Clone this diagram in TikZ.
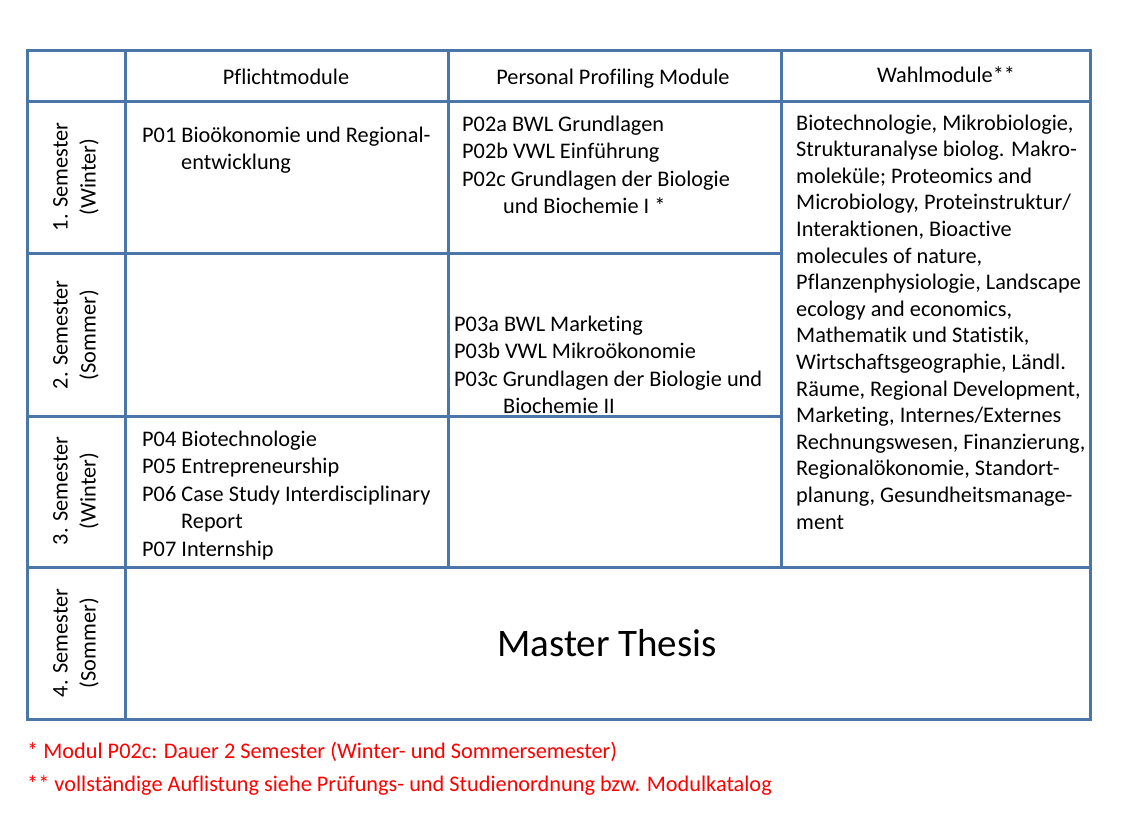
\documentclass[tikz,border=0pt]{standalone}
\usepackage{fontspec}
\setmainfont{Carlito}[Ligatures={NoCommon}]
\definecolor{gridblue}{RGB}{74,118,168}
\definecolor{noteRed}{RGB}{255,0,0}
\begin{document}
\begin{tikzpicture}[x=1pt,y=-1pt,
  gridline/.style={draw=gridblue,line width=3pt},
  txt/.style={inner sep=0pt,anchor=base west,align=left,font=\fontsize{22.3}{27.5}\selectfont},
  wahltxt/.style={inner sep=0pt,anchor=base west,align=left,font=\fontsize{22.3}{26.6}\selectfont},
  head/.style={inner sep=0pt,anchor=base,font=\fontsize{22.3}{25}\selectfont},
  sem/.style={inner sep=0pt,rotate=90,align=center,font=\fontsize{22.3}{28}\selectfont},
  note/.style={inner sep=0pt,anchor=base west,text=noteRed,font=\fontsize{22.3}{25}\selectfont}]
\useasboundingbox (0,0) rectangle (1121,819);
% grid
\draw[gridline] (27,50) rectangle (1090,719);
\draw[gridline] (27,101) -- (1090,101);
\draw[gridline] (27,253) -- (781,253);
\draw[gridline] (27,416) -- (781,416);
\draw[gridline] (27,567) -- (1090,567);
\draw[gridline] (125,50) -- (125,719);
\draw[gridline] (448,50) -- (448,567);
\draw[gridline] (781,50) -- (781,567);
% headers
\node[head] (h1) at (286,84) {Pflichtmodule};
\node[head] (h2) at (613,84) {Personal Profiling Module};
\node[head] (h3) at (946,82) {Wahlmodule**};
% semester labels
\node[sem] (s1) at (76,177) {1. Semester\\(Winter)};
\node[sem] (s2) at (76,335) {2. Semester\\(Sommer)};
\node[sem] (s3) at (76,491) {3. Semester\\(Winter)};
\node[sem] (s4) at (76,643) {4. Semester\\(Sommer)};
% cells (base anchor = baseline of last line)
\node[txt] (p01) at (142,169.5) {P01 Bioökonomie und Regional-\\\hspace*{39pt}entwicklung};
\node[txt] (p02) at (462,213.5) {P02a BWL Grundlagen\\P02b VWL Einführung\\P02c Grundlagen der Biologie\\\hspace*{41pt}und Biochemie I *};
\node[txt] (p03) at (454,413.5) {P03a BWL Marketing\\P03b VWL Mikroökonomie\\P03c Grundlagen der Biologie und\\\hspace*{49pt}Biochemie II};
\node[txt] (p04) at (142,556) {P04 Biotechnologie\\P05 Entrepreneurship\\P06 Case Study Interdisciplinary\\\hspace*{39pt}Report\\P07 Internship};
\node[wahltxt] (wahl) at (796,529) {Biotechnologie, Mikrobiologie,\\Strukturanalyse biolog. Makro-\\moleküle; Proteomics and\\Microbiology, Proteinstruktur/\\Interaktionen, Bioactive\\molecules of nature,\\Pflanzenphysiologie, Landscape\\ecology and economics,\\Mathematik und Statistik,\\Wirtschaftsgeographie, Ländl.\\Räume, Regional Development,\\Marketing, Internes/Externes\\Rechnungswesen, Finanzierung,\\Regionalökonomie, Standort-\\planung, Gesundheitsmanage-\\ment};
\node[inner sep=0pt,anchor=base,font=\fontsize{39}{44}\selectfont] (mt) at (607,656) {Master Thesis};
% notes
\node[note] (n1) at (27,758) {* Modul P02c: Dauer 2 Semester (Winter- und Sommersemester)};
\node[note] (n2) at (27,791) {** vollständige Auflistung siehe Prüfungs- und Studienordnung bzw. Modulkatalog};
\end{tikzpicture}
\end{document}
